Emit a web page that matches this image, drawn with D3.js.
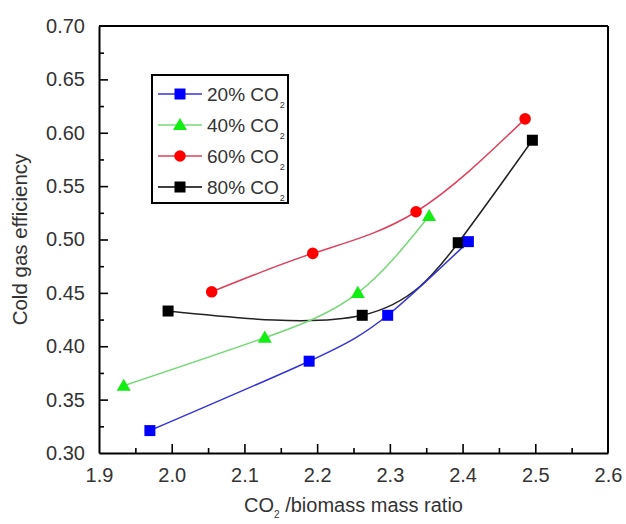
<!DOCTYPE html>
<html>
<head>
<meta charset="utf-8">
<script src="https://cdn.jsdelivr.net/npm/d3@7"></script>
<style>
  body { margin: 0; background: #fff; }
  text { font-family: "Liberation Sans", Arial, sans-serif; }
</style>
</head>
<body>
<script>
const width = 626;
const height = 524;

// data
const seriesNames = ["20% CO", "40% CO", "60% CO", "80% CO"];
const ratio20 = [1.970, 2.189, 2.297, 2.408];
const eff20 = [0.321, 0.386, 0.429, 0.498];
const ratio40 = [1.934, 2.128, 2.256, 2.354];
const eff40 = [0.363, 0.408, 0.450, 0.522];
const ratio60 = [2.055, 2.194, 2.336, 2.486];
const eff60 = [0.451, 0.487, 0.526, 0.613];
const ratio80 = [1.995, 2.262, 2.394, 2.496];
const eff80 = [0.433, 0.429, 0.497, 0.593];
const xTicks = [1.9, 2.0, 2.1, 2.2, 2.3, 2.4, 2.5, 2.6];
const yTicks = [0.30, 0.35, 0.40, 0.45, 0.50, 0.55, 0.60, 0.65, 0.70];

const margin = { top: 26, right: 18, bottom: 71, left: 99 };

const series = [
  { name: seriesNames[0], x: ratio20, y: eff20, marker: "square", fill: "#0000ff", line: "#3434d8" },
  { name: seriesNames[1], x: ratio40, y: eff40, marker: "triangle", fill: "#11ee11", line: "#77d877" },
  { name: seriesNames[2], x: ratio60, y: eff60, marker: "circle", fill: "#ff0000", line: "#e0405a" },
  { name: seriesNames[3], x: ratio80, y: eff80, marker: "square", fill: "#000000", line: "#222222" }
];

const svg = d3.select("body").append("svg")
  .attr("width", width)
  .attr("height", height);

const xScale = d3.scaleLinear()
  .domain([1.9, 2.6])
  .range([margin.left, width - margin.right]);

const yScale = d3.scaleLinear()
  .domain([0.3, 0.7])
  .range([height - margin.bottom, margin.top]);

// minor ticks halfway between majors
const xMinor = xTicks.slice(1).map((t, i) => (t + xTicks[i]) / 2);
const yMinor = yTicks.slice(1).map((t, i) => (t + yTicks[i]) / 2);

// axes, ticks pointing inward
const xAxis = d3.axisBottom(xScale).tickValues(xTicks).tickFormat(d3.format(".1f"))
  .tickSizeInner(-9).tickSizeOuter(0).tickPadding(15);
const yAxis = d3.axisLeft(yScale).tickValues(yTicks).tickFormat(d3.format(".2f"))
  .tickSizeInner(-9).tickSizeOuter(0).tickPadding(14);

const gx = svg.append("g")
  .attr("transform", `translate(0, ${yScale(0.3)})`)
  .call(xAxis);
gx.selectAll(".tick")
  .filter(d => d === 1.9 || d === 2.6)
  .select("line").remove();

const gy = svg.append("g")
  .attr("transform", `translate(${xScale(1.9)}, 0)`)
  .call(yAxis);
gy.selectAll(".tick")
  .filter(d => d === 0.3 || d === 0.7)
  .select("line").remove();

svg.append("g")
  .attr("transform", `translate(0, ${yScale(0.3)})`)
  .call(d3.axisBottom(xScale).tickValues(xMinor).tickFormat("").tickSizeInner(-5).tickSizeOuter(0))
  .select(".domain").remove();
svg.append("g")
  .attr("transform", `translate(${xScale(1.9)}, 0)`)
  .call(d3.axisLeft(yScale).tickValues(yMinor).tickFormat("").tickSizeInner(-5).tickSizeOuter(0))
  .select(".domain").remove();

svg.selectAll(".domain").attr("stroke", "#000").attr("stroke-width", 2);
svg.selectAll(".tick line").attr("stroke", "#000").attr("stroke-width", 1.6);
svg.selectAll(".tick text")
  .attr("font-size", 20)
  .attr("fill", "#333")
  .style("font-family", "'Liberation Sans', Arial, sans-serif");

// top and right frame
svg.append("line")
  .attr("x1", xScale(1.9)).attr("x2", xScale(2.6))
  .attr("y1", yScale(0.7)).attr("y2", yScale(0.7))
  .attr("stroke", "#000").attr("stroke-width", 2);
svg.append("line")
  .attr("x1", xScale(2.6)).attr("x2", xScale(2.6))
  .attr("y1", yScale(0.7)).attr("y2", yScale(0.3))
  .attr("stroke", "#000").attr("stroke-width", 2);

// axis titles
svg.append("text")
  .attr("transform", `translate(27, ${(yScale(0.3) + yScale(0.7)) / 2}) rotate(-90)`)
  .attr("text-anchor", "middle")
  .attr("font-size", 20.5)
  .attr("fill", "#333")
  .text("Cold gas efficiency");

const xTitle = svg.append("text")
  .attr("x", (xScale(1.9) + xScale(2.6)) / 2)
  .attr("y", 512)
  .attr("text-anchor", "middle")
  .attr("font-size", 20)
  .attr("fill", "#333");
xTitle.append("tspan").text("CO");
xTitle.append("tspan").attr("font-size", 10).attr("dy", 6).text("2");
xTitle.append("tspan").attr("dy", -6).text(" /biomass mass ratio");

// marker drawing
const symbolFor = m => m === "square" ? d3.symbolSquare : m === "triangle" ? d3.symbolTriangle : d3.symbolCircle;
const sizeFor = m => m === "square" ? 121 : m === "triangle" ? 85 : 105;

const line = d3.line()
  .x(d => xScale(d[0]))
  .y(d => yScale(d[1]))
  .curve(d3.curveNatural);

const drawOrder = [3, 2, 1, 0];
drawOrder.forEach(i => {
  const s = series[i];
  const pts = s.x.map((v, j) => [v, s.y[j]]);
  svg.append("path")
    .attr("d", line(pts))
    .attr("fill", "none")
    .attr("stroke", s.line)
    .attr("stroke-width", 1.5);
});
drawOrder.forEach(i => {
  const s = series[i];
  const pts = s.x.map((v, j) => [v, s.y[j]]);
  svg.selectAll(null)
    .data(pts)
    .join("path")
    .attr("transform", d => `translate(${xScale(d[0])}, ${yScale(d[1]) + (s.marker === "triangle" ? 1 : 0)})`)
    .attr("d", d3.symbol().type(symbolFor(s.marker)).size(sizeFor(s.marker)))
    .attr("fill", s.fill);
});

// legend
const legend = svg.append("g");
legend.append("rect")
  .attr("x", 152).attr("y", 75)
  .attr("width", 136).attr("height", 128)
  .attr("fill", "#fff")
  .attr("stroke", "#000")
  .attr("stroke-width", 2);

series.forEach((s, i) => {
  const ly = 94 + i * 31;
  const row = legend.append("g").attr("transform", `translate(0, ${ly})`);
  row.append("line")
    .attr("x1", 158).attr("x2", 202)
    .attr("stroke", s.line === "#222222" ? "#000" : s.line)
    .attr("stroke-width", 1.5);
  row.append("path")
    .attr("transform", `translate(180, ${s.marker === "triangle" ? 1 : 0})`)
    .attr("d", d3.symbol().type(symbolFor(s.marker)).size(sizeFor(s.marker)))
    .attr("fill", s.fill);
  const t = row.append("text")
    .attr("x", 207).attr("y", 7)
    .attr("font-size", 19)
    .attr("fill", "#333");
  t.append("tspan").text(s.name);
  t.append("tspan").attr("font-size", 9).attr("dy", 7).attr("dx", 1).text("2");
});
</script>
</body>
</html>
